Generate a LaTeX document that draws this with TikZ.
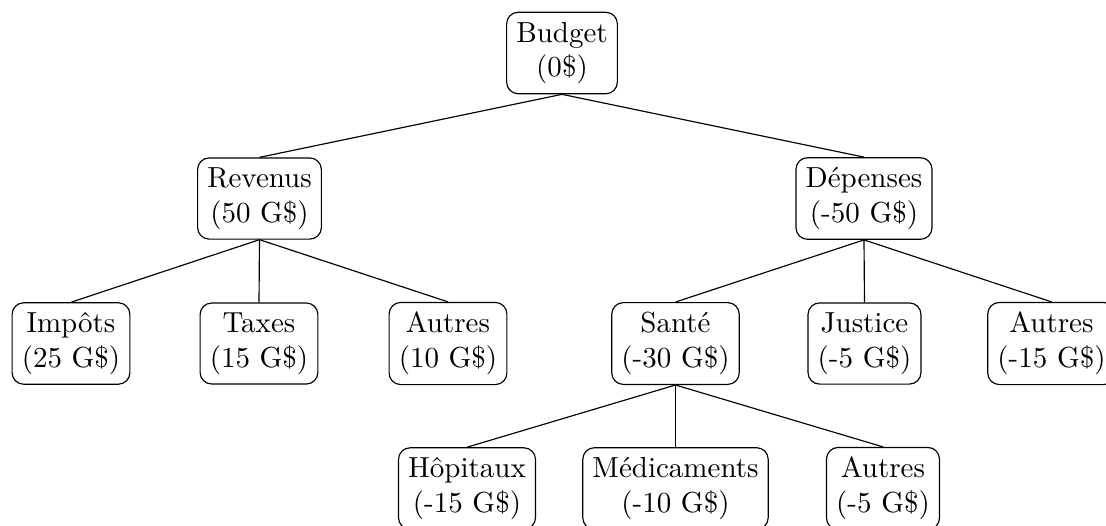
\documentclass[tikz,border=0pt]{standalone}
\begin{document}
\begin{tikzpicture}[x=0.3448pt,y=-0.3448pt,
  box/.style={draw, rounded corners=4pt, align=center, inner sep=3.33pt, line width=0.4pt},
  link/.style={line width=0.4pt}]
\useasboundingbox (0,0) rectangle (1106,525);
% root
\node[box] (budget) at (562,53) {Budget\\(0\$)};
% second level
\node[box] (rev) at (259.5,198.5) {Revenus\\(50 G\$)};
\node[box] (dep) at (864,198.5) {Dépenses\\(-50 G\$)};
% income items
\node[box] (imp) at (71,343.5) {Impôts\\(25 G\$)};
\node[box] (tax) at (259,343.5) {Taxes\\(15 G\$)};
\node[box] (autrev) at (448,343.5) {Autres\\(10 G\$)};
% spending items
\node[box] (sante) at (675.5,343.5) {Santé\\(-30 G\$)};
\node[box] (just) at (864.5,343.5) {Justice\\(-5 G\$)};
\node[box] (autdep) at (1051.5,343.5) {Autres\\(-15 G\$)};
% health items
\node[box] (hop) at (467,488.5) {Hôpitaux\\(-15 G\$)};
\node[box] (med) at (675.5,488.5) {Médicaments\\(-10 G\$)};
\node[box] (autsan) at (883,488.5) {Autres\\(-5 G\$)};
% connectors
\draw[link] (budget.south) -- (rev.north);
\draw[link] (budget.south) -- (dep.north);
\draw[link] (rev.south) -- (imp.north);
\draw[link] (rev.south) -- (tax.north);
\draw[link] (rev.south) -- (autrev.north);
\draw[link] (dep.south) -- (sante.north);
\draw[link] (dep.south) -- (just.north);
\draw[link] (dep.south) -- (autdep.north);
\draw[link] (sante.south) -- (hop.north);
\draw[link] (sante.south) -- (med.north);
\draw[link] (sante.south) -- (autsan.north);
\end{tikzpicture}
\end{document}
